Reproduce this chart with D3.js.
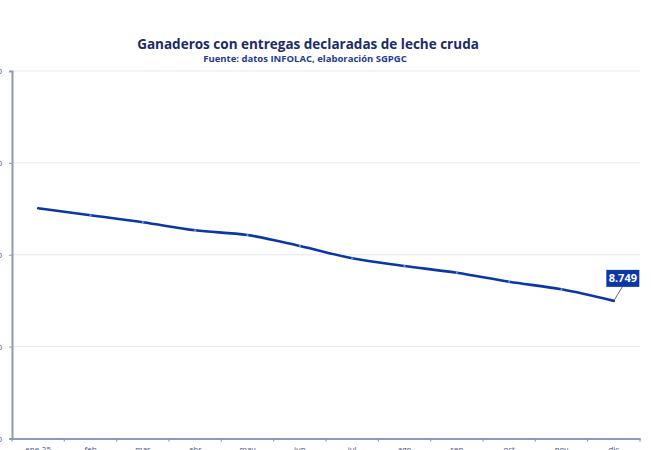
<!DOCTYPE html>
<html><head><meta charset="utf-8">
<script src="https://cdn.jsdelivr.net/npm/d3@7"></script>
<style>html,body{margin:0;padding:0;background:#fff;overflow:hidden}</style>
</head><body>
<svg id="c" width="651" height="450"></svg>
<script>
const months = ["ene-25","feb","mar","abr","may","jun","jul","ago","sep","oct","nov","dic"];
const ganaderos = [9253,9215,9177,9133,9107,9048,8981,8939,8902,8853,8812,8749];
const yTicks = [8000,8500,9000,9500,10000];
const title = "Ganaderos con entregas declaradas de leche cruda";
const subtitle = "Fuente: datos INFOLAC, elaboración SGPGC";

const svg = d3.select("#c");
const fmt = v => d3.format(",")(v).replace(/,/g,".");
const x = d3.scaleBand().domain(months).range([12,640]);
const y = d3.scaleLinear().domain([8000,10000]).range([438.5,71]);

// gridlines
svg.append("g").selectAll("line").data(yTicks.slice(1)).join("line")
  .attr("x1",12).attr("x2",640).attr("y1",d=>y(d)).attr("y2",d=>y(d))
  .attr("stroke","#e4e6ef").attr("stroke-width",1);

// y axis
const ya = svg.append("g").attr("transform","translate(12,0)")
  .call(d3.axisLeft(y).tickValues(yTicks).tickFormat(fmt).tickSize(3).tickPadding(7));
ya.select(".domain").attr("stroke","#8d98bd").attr("stroke-width",2);
ya.selectAll(".tick line").attr("stroke","#8d98bd");
ya.selectAll("text").attr("fill","#4a5578").style("font-family","Open Sans").style("font-size","8px");

// x axis
const xa = svg.append("g").attr("transform","translate(0,438.5)")
  .call(d3.axisBottom(x).tickSize(0).tickPadding(8));
xa.select(".domain").attr("stroke","#8d98bd").attr("stroke-width",2);
xa.selectAll("text").attr("fill","#4a5578").style("font-family","Open Sans").style("font-size","8px");
xa.append("g").selectAll("line").data(months.concat(["__end"])).join("line")
  .attr("x1",d=>d==="__end"?x.range()[1]:x(d)).attr("x2",d=>d==="__end"?x.range()[1]:x(d))
  .attr("y1",0).attr("y2",3).attr("stroke","#8d98bd").attr("stroke-width",1.2);

// line
const pts = months.map((m,i)=>[x(m)+x.bandwidth()/2, y(ganaderos[i])]);
svg.append("path").datum(pts)
  .attr("d", d3.line().curve(d3.curveMonotoneX))
  .attr("fill","none").attr("stroke","#0b37a6").attr("stroke-width",2.6)
  .attr("stroke-linejoin","round").attr("stroke-linecap","round");
svg.append("g").selectAll("circle").data(pts.slice(1,-1)).join("circle")
  .attr("cx",d=>d[0]).attr("cy",d=>d[1]).attr("r",1.1).attr("fill","#ffffff").attr("opacity",0.45);

// last label
const last = pts[pts.length-1];
const lx = last[0]+9, ly = last[1]-23;
svg.append("line").attr("x1",last[0]).attr("y1",last[1]).attr("x2",lx).attr("y2",ly+8)
  .attr("stroke","#666").attr("stroke-width",1);
svg.append("rect").attr("x",lx-16.5).attr("y",ly-8).attr("width",33).attr("height",17)
  .attr("fill","#0b37a6");
svg.append("text").attr("x",lx).attr("y",ly+4).attr("text-anchor","middle")
  .attr("fill","#fff").style("font-family","Open Sans").style("font-weight","700").style("font-size","11px")
  .text(fmt(ganaderos[ganaderos.length-1]));

// titles
svg.append("text").attr("x",308).attr("y",49).attr("text-anchor","middle")
  .attr("fill","#1c2b66").style("font-family","Open Sans").style("font-weight","700").style("font-size","13.5px")
  .text(title);
svg.append("text").attr("x",305).attr("y",62).attr("text-anchor","middle")
  .attr("fill","#1f3a8f").style("font-family","Open Sans").style("font-weight","700").style("font-size","9.5px")
  .text(subtitle);
</script>
</body></html>
